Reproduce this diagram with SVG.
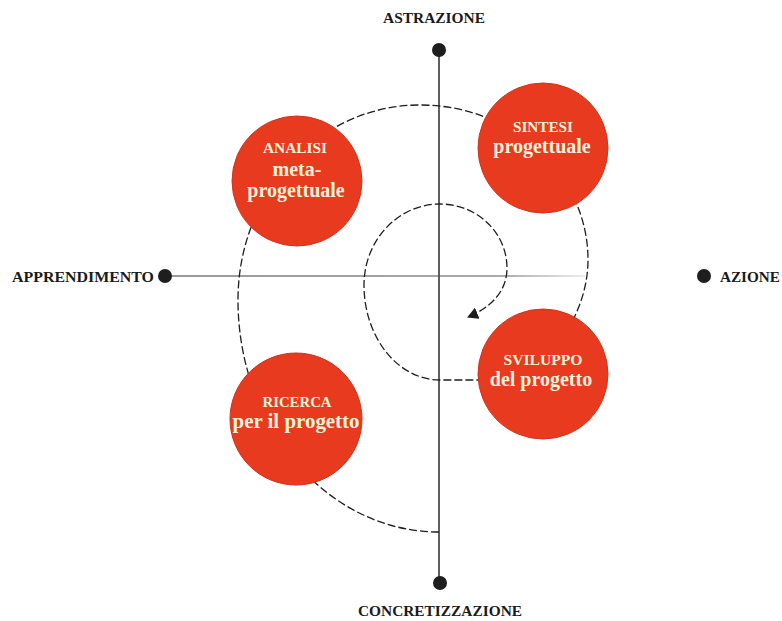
<svg xmlns="http://www.w3.org/2000/svg" width="782" height="621" viewBox="0 0 782 621">
  <style>
    .axis-label { font-family: "Liberation Serif", "DejaVu Serif", serif; font-weight: bold; fill: #1a1a1a; }
    .node circle { fill: #e73a1f; stroke: #d2331b; stroke-width: 1; }
    .caps { font-family: "Liberation Serif", "DejaVu Serif", serif; font-weight: bold; font-size: 14px; fill: #fcf3da; text-anchor: middle; }
    .big { font-family: "Liberation Serif", "DejaVu Serif", serif; font-weight: bold; font-size: 20px; fill: #fcf3da; text-anchor: middle; }
    .dot { fill: #1e1e1e; }
    .spiral { fill: none; stroke: #1e1e1e; stroke-width: 1.3; stroke-dasharray: 8 3; }
  </style>
  <defs>
    <linearGradient id="hfade" gradientUnits="userSpaceOnUse" x1="165" y1="0" x2="585" y2="0">
      <stop offset="0" stop-color="#333"/>
      <stop offset="0.8" stop-color="#555"/>
      <stop offset="1" stop-color="#ddd"/>
    </linearGradient>
    <marker id="arrow" markerWidth="12" markerHeight="12" refX="10" refY="6" orient="auto" markerUnits="userSpaceOnUse">
      <path d="M0,0 L11,6 L0,12 Z" fill="#1e1e1e"/>
    </marker>
  </defs>

  <!-- axes -->
  <g id="axes">
    <line x1="439" y1="50" x2="439" y2="583" stroke="#2a2a2a" stroke-width="1.5"/>
    <line x1="165" y1="276" x2="585" y2="276" stroke="url(#hfade)" stroke-width="1.1"/>
    <circle class="dot" cx="439" cy="50" r="7"/>
    <circle class="dot" cx="440" cy="583" r="7"/>
    <circle class="dot" cx="165" cy="276" r="7"/>
    <circle class="dot" cx="704" cy="276" r="7"/>
    <text class="axis-label" x="434" y="23" font-size="14" text-anchor="middle" textLength="102" lengthAdjust="spacingAndGlyphs">ASTRAZIONE</text>
    <text class="axis-label" x="440" y="616" font-size="14" text-anchor="middle" textLength="164" lengthAdjust="spacingAndGlyphs">CONCRETIZZAZIONE</text>
    <text class="axis-label" x="12" y="282" font-size="15" textLength="142" lengthAdjust="spacingAndGlyphs">APPRENDIMENTO</text>
    <text class="axis-label" x="720" y="282" font-size="15" textLength="60" lengthAdjust="spacingAndGlyphs">AZIONE</text>
  </g>

  <!-- connectors: the dashed spiral -->
  <g id="connectors">
    <path class="spiral" marker-end="url(#arrow)"
      d="M439,532
         C328,532 238,428 238,300
         C238,192 319.5,105 420,105
         C512.8,105 588,174.4 588,260
         C588,320 540,380 500,380
         L440,380
         C398,380 364,337.5 364,285
         C364,240.3 398,204 440,204
         C477,204 507,232.7 507,268
         C507,292 490,308 468,317"/>
  </g>

  <!-- nodes -->
  <g id="analisi" class="node">
    <circle cx="297" cy="181" r="65"/>
    <text class="caps" x="295" y="153" textLength="64" lengthAdjust="spacingAndGlyphs">ANALISI</text>
    <text class="big" x="297" y="176">meta-</text>
    <text class="big" x="296" y="197">progettuale</text>
  </g>
  <g id="sintesi" class="node">
    <circle cx="543" cy="148" r="65"/>
    <text class="caps" x="543" y="132" textLength="60" lengthAdjust="spacingAndGlyphs">SINTESI</text>
    <text class="big" x="542" y="153">progettuale</text>
  </g>
  <g id="sviluppo" class="node">
    <circle cx="543" cy="374" r="65"/>
    <text class="caps" x="543" y="365" textLength="79" lengthAdjust="spacingAndGlyphs">SVILUPPO</text>
    <text class="big" x="541" y="386">del progetto</text>
  </g>
  <g id="ricerca" class="node">
    <circle cx="296" cy="419" r="66"/>
    <text class="caps" x="297" y="407" textLength="69" lengthAdjust="spacingAndGlyphs">RICERCA</text>
    <text class="big" x="296" y="428" textLength="127" lengthAdjust="spacingAndGlyphs">per il progetto</text>
  </g>
</svg>
